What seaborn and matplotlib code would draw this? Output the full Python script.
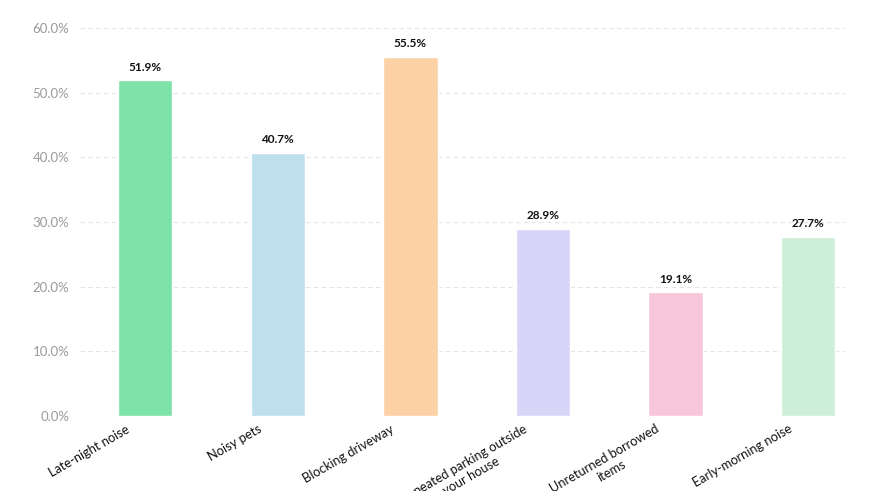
import matplotlib
matplotlib.use("Agg")
import matplotlib.pyplot as plt
import matplotlib.transforms as mtransforms
import seaborn as sns
import pandas as pd
from matplotlib.ticker import FuncFormatter

# data
categories = ["Late-night noise", "Noisy pets", "Blocking driveway",
              "Repeated parking outside\nyour house", "Unreturned borrowed\nitems",
              "Early-morning noise"]
values = [51.9, 40.7, 55.5, 28.9, 19.1, 27.7]
colors = ["#7EE3A9", "#BEDFEE", "#FDD1A6", "#D8D6F8", "#F7C7D9", "#CDEFD7"]

df = pd.DataFrame({"issue": categories, "pct": values})

sns.set_theme(style="white")
plt.rcParams["font.family"] = ["Lato", "DejaVu Sans"]

fig = plt.figure(figsize=(8.73, 4.91), dpi=100)
ax = fig.add_axes([0.092, 0.153, 0.876, 0.79])

sns.barplot(data=df, x="issue", y="pct", hue="issue", palette=colors,
            width=0.41, legend=False, ax=ax, saturation=1)

# value labels on top of bars
for i, v in enumerate(values):
    ax.text(i, v + 1.2, f"{v:.1f}%", ha="center", va="bottom",
            fontsize=8.5, fontweight="bold", color="#111111")

ax.set_ylim(0, 60)
ax.set_xlim(-0.49, 5.28)
ax.set_yticks(range(0, 61, 10))
ax.yaxis.set_major_formatter(FuncFormatter(lambda y, _: f"{y:.1f}%"))
ax.grid(axis="y", color="#e4e4e4", linestyle=(0, (4, 3)), linewidth=0.8)
ax.set_axisbelow(True)
sns.despine(ax=ax, left=True, bottom=True, top=True, right=True)
ax.set_xlabel("")
ax.set_ylabel("")

ax.tick_params(axis="y", colors="#9a9a9a", labelsize=9.5, length=0, pad=8)
ax.tick_params(axis="x", colors="#111111", length=0, pad=5)
ax.set_xticks(range(len(categories)))
ax.set_xticklabels(categories, rotation=30, ha="right", rotation_mode="anchor",
                   fontsize=9.3, multialignment="center")

# nudge the rotated labels left so they end under the bar centre
shift = mtransforms.ScaledTranslation(-0.2, 0, fig.dpi_scale_trans)
for lbl in ax.get_xticklabels():
    lbl.set_transform(lbl.get_transform() + shift)

fig.savefig("out.png", dpi=100)
